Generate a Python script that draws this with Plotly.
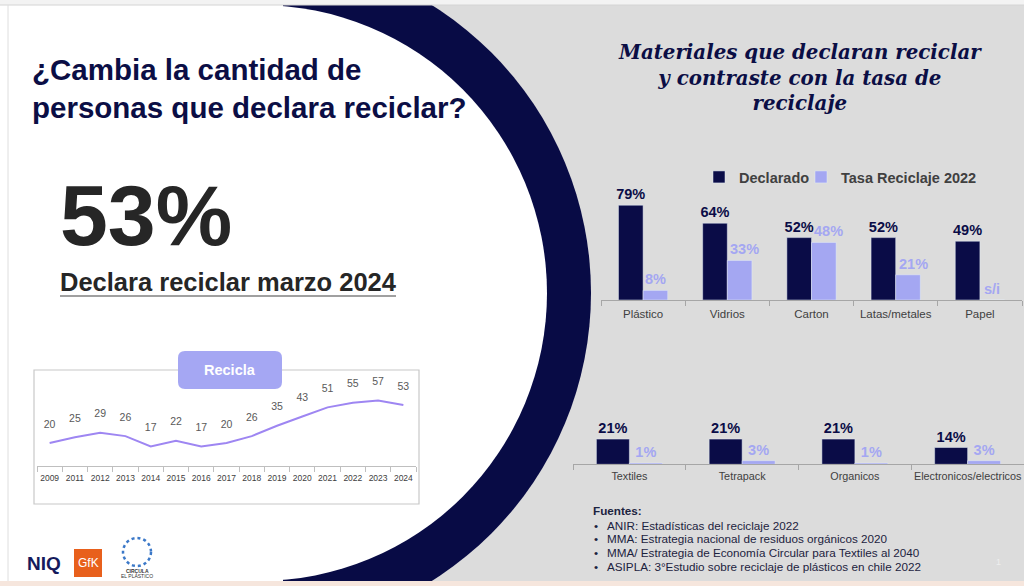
import plotly.graph_objects as go

# Serie "Recicla": % que declara reciclar por año
anios = ["2009", "2011", "2012", "2013", "2014", "2015", "2016", "2017",
         "2018", "2019", "2020", "2021", "2022", "2023", "2024"]
recicla = [20, 25, 29, 26, 17, 22, 17, 20, 26, 35, 43, 51, 55, 57, 53]

# Materiales, fila superior
materiales_sup = ["Plástico", "Vidrios", "Carton", "Latas/metales", "Papel"]
declarado_sup = [79, 64, 52, 52, 49]
tasa_sup = [8, 33, 48, 21, None]   # Papel: s/i

# Materiales, fila inferior
materiales_inf = ["Textiles", "Tetrapack", "Organicos", "Electronicos/electricos"]
declarado_inf = [21, 21, 21, 14]
tasa_inf = [1, 3, 1, 3]

fuentes = [
    "ANIR: Estadísticas del reciclaje 2022",
    "MMA: Estrategia nacional de residuos orgánicos 2020",
    "MMA/ Estrategia de Economía Circular para Textiles al 2040",
    "ASIPLA: 3°Estudio sobre reciclaje de plásticos en chile 2022",
]

NAVY = "#0a0c47"
LAV = "#a4a7f2"
LINE = "#9e86f2"
GRIS = "#404040"
FONT = "Liberation Sans, Arial, sans-serif"

W, H = 1024, 586


def fx(px):
    return px / W


def fy(py):
    return 1 - py / H


def rect(x0, y0, x1, y1, fill, line_color=None, width=0):
    return dict(type="rect", xref="paper", yref="paper", layer="below",
                x0=fx(x0), x1=fx(x1), y0=fy(y1), y1=fy(y0),
                fillcolor=fill, line=dict(color=line_color or fill, width=width))


def circle(cx, cy, r, fill):
    return dict(type="circle", xref="paper", yref="paper", layer="below",
                x0=fx(cx - r), x1=fx(cx + r), y0=fy(cy + r), y1=fy(cy - r),
                fillcolor=fill, line=dict(width=0))


def rounded(x0, y0, x1, y1, rad, fill):
    p = (f"M {fx(x0 + rad)},{fy(y0)} L {fx(x1 - rad)},{fy(y0)} "
         f"Q {fx(x1)},{fy(y0)} {fx(x1)},{fy(y0 + rad)} L {fx(x1)},{fy(y1 - rad)} "
         f"Q {fx(x1)},{fy(y1)} {fx(x1 - rad)},{fy(y1)} L {fx(x0 + rad)},{fy(y1)} "
         f"Q {fx(x0)},{fy(y1)} {fx(x0)},{fy(y1 - rad)} L {fx(x0)},{fy(y0 + rad)} "
         f"Q {fx(x0)},{fy(y0)} {fx(x0 + rad)},{fy(y0)} Z")
    return dict(type="path", xref="paper", yref="paper", path=p,
                fillcolor=fill, line=dict(width=0))


def txt(x, y, s, size, color, anchor="left", weight="normal", family=FONT, style="normal"):
    return dict(x=fx(x), y=fy(y), xref="paper", yref="paper", text=s, showarrow=False,
                xanchor=anchor, yanchor="middle", align=anchor if anchor != "center" else "center",
                font=dict(family=family, size=size, color=color, weight=weight, style=style))


fig = go.Figure()

# linea "Recicla" (marcadores invisibles para separar las etiquetas de la linea)
fig.add_trace(go.Scatter(
    x=anios, y=recicla, mode="lines+markers+text", text=[str(v) for v in recicla],
    textposition="top center", textfont=dict(family=FONT, size=10.5, color="#595959"),
    line=dict(color=LINE, width=2), marker=dict(size=19, color="rgba(0,0,0,0)"),
    cliponaxis=False, showlegend=False, xaxis="x", yaxis="y"))

# barras fila superior
fig.add_trace(go.Bar(
    x=materiales_sup, y=declarado_sup, name="Declarado", marker_color=NAVY,
    text=[f"{v}%" for v in declarado_sup], textposition="outside",
    textfont=dict(family=FONT, size=14.5, color=NAVY, weight="bold"),
    constraintext="none", cliponaxis=False, xaxis="x2", yaxis="y2", legend="legend"))
fig.add_trace(go.Bar(
    x=materiales_sup, y=[v if v is not None else 0 for v in tasa_sup],
    name="Tasa Reciclaje 2022", marker_color=LAV,
    cliponaxis=False, xaxis="x2", yaxis="y2", legend="legend2"))

# barras fila inferior
fig.add_trace(go.Bar(
    x=materiales_inf, y=declarado_inf, marker_color=NAVY, showlegend=False,
    text=[f"{v}%" for v in declarado_inf], textposition="outside",
    textfont=dict(family=FONT, size=14.5, color=NAVY, weight="bold"),
    constraintext="none", cliponaxis=False, xaxis="x3", yaxis="y3"))
fig.add_trace(go.Bar(
    x=materiales_inf, y=tasa_inf, marker_color=LAV, showlegend=False,
    text=[f"{v}%" for v in tasa_inf], textposition="outside",
    textfont=dict(family=FONT, size=14.5, color=LAV, weight="bold"),
    constraintext="none", cliponaxis=False, xaxis="x3", yaxis="y3"))

cat_axis = dict(type="category", showline=True, linecolor="#bfbfbf", linewidth=1,
                ticks="outside", tickson="boundaries", ticklen=5, tickcolor="#bfbfbf",
                tickangle=0, showgrid=False, zeroline=False, fixedrange=True)

shapes = [
    rect(283, 5, 1024, 581, "#dcdcdc"),
    circle(251, 293, 340, "#080b45"),
    circle(259, 293, 288, "white"),
    rect(0, 5, 283, 581, "white"),
    rect(0, 0, 1024, 5, "#f3f3f3"),
    rect(0, 581, 1024, 586, "#f6e6dd"),
    dict(type="line", xref="paper", yref="paper", layer="below",
         x0=fx(0), x1=1, y0=fy(5), y1=fy(5), line=dict(color="#d4d4d4", width=1)),
    dict(type="line", xref="paper", yref="paper", layer="below",
         x0=fx(8), x1=fx(8), y0=fy(5), y1=fy(581), line=dict(color="#dedede", width=1)),
    # caja del grafico de linea
    dict(type="rect", xref="paper", yref="paper", layer="below",
         x0=fx(34), x1=fx(419), y0=fy(504), y1=fy(370),
         fillcolor="rgba(0,0,0,0)", line=dict(color="#c8c8c8", width=1.2)),
    rounded(178, 351, 282, 389, 7, "#a5a7f3"),
    # subrayado
    dict(type="line", xref="paper", yref="paper",
         x0=fx(60), x1=fx(396), y0=fy(296), y1=fy(296), line=dict(color="#808080", width=1.3)),
    # logos
    rect(74, 549, 102, 577, "#e8601c"),
    dict(type="circle", xref="paper", yref="paper",
         x0=fx(123), x1=fx(151), y0=fy(566), y1=fy(538),
         line=dict(color="#3b78c8", width=2.5, dash="dot")),
]

annotations = [
    txt(30, 88, "¿Cambia la cantidad de<br>personas que declara reciclar?", 29.5, "#0b0e45",
        weight="bold"),
    txt(58, 215, "53%", 86, "#262626", weight="bold"),
    txt(58, 282, "Declara reciclar marzo 2024", 25.5, "#262626", weight="bold"),
    txt(230, 370, "Recicla", 14.5, "white", anchor="center", weight="bold"),
    txt(800, 78, "Materiales que declaran reciclar<br>y contraste con la tasa de<br>reciclaje",
        19.8, "#0b0e45", anchor="center", weight="bold",
        family="DejaVu Serif, Georgia, serif", style="italic"),
    txt(591, 510, "Fuentes:", 11.7, "#1c2340", weight="bold"),
    txt(998, 562, "1", 9, "#eeeeee", anchor="center"),
    txt(44, 563, "NIQ", 19, "#151a5c", anchor="center", weight="bold"),
    txt(88, 563, "GfK", 12, "white", anchor="center"),
    txt(137, 571, "CIRCULA", 5, "#333333", anchor="center", weight="bold"),
    txt(137, 576, "EL PLÁSTICO", 5, "#333333", anchor="center"),
]
for i, f in enumerate(fuentes):
    annotations.append(txt(592, 525.3 + 13.6 * i, "•", 11.7, "#1c2340"))
    annotations.append(txt(605, 525.3 + 13.6 * i, f, 11.7, "#1c2340"))

# etiquetas de la tasa (fila superior), algo corridas a la derecha como en la lamina
for m, v in zip(materiales_sup, tasa_sup):
    annotations.append(dict(
        x=m, y=v if v is not None else 0, xref="x2", yref="y2", showarrow=False,
        text=f"{v}%" if v is not None else "s/i", xanchor="center", yanchor="bottom",
        xshift=12.3 + (5 if v is not None and v > 10 else 0), yshift=1,
        font=dict(family=FONT, size=14.5, color=LAV, weight="bold")))

leg = dict(orientation="h", y=fy(177), xanchor="left", yanchor="middle",
           bgcolor="rgba(0,0,0,0)",
           font=dict(family=FONT, size=14.5, color=GRIS, weight="bold"))

fig.update_layout(
    width=W, height=H, margin=dict(l=0, r=0, t=0, b=0),
    paper_bgcolor="white", plot_bgcolor="rgba(0,0,0,0)",
    barmode="group", bargap=0.415, bargroupgap=0,
    font=dict(family=FONT, color=GRIS),
    xaxis=dict(cat_axis, domain=[fx(37), fx(416)], anchor="y", ticklabelstandoff=4,
               range=[-0.5, len(anios) - 0.5],
               tickfont=dict(family=FONT, size=8.5, color=GRIS)),
    yaxis=dict(domain=[fy(466), fy(368.25)], range=[0, 85], visible=False, fixedrange=True),
    xaxis2=dict(cat_axis, domain=[fx(601), fx(1022)], anchor="y2", ticklabelstandoff=3,
                linecolor="#a6a6a6", tickcolor="#a6a6a6",
                tickfont=dict(family=FONT, size=11.5, color=GRIS)),
    yaxis2=dict(domain=[fy(300), fy(192)], range=[0, 90], anchor="x2",
                visible=False, fixedrange=True),
    xaxis3=dict(cat_axis, domain=[fx(573), fx(1024)], anchor="y3", ticklabelstandoff=2,
                linecolor="#a6a6a6", tickcolor="#a6a6a6",
                tickfont=dict(family=FONT, size=10.8, color=GRIS)),
    yaxis3=dict(domain=[fy(464.3), fy(416.3)], range=[0, 40], anchor="x3",
                visible=False, fixedrange=True),
    legend=dict(leg, x=fx(699)),
    legend2=dict(leg, x=fx(801)),
    shapes=shapes,
    annotations=annotations,
)

# sin margen del body para que la figura ocupe la ventana exacta
ajuste = ("document.body.style.margin='0';document.body.style.overflow='hidden';"
          "Plotly.relayout(document.getElementById('{plot_id}'), {width: 1024, height: 586});")

fig.write_html("out.html", config={"responsive": False, "displayModeBar": False},
               post_script=ajuste)
